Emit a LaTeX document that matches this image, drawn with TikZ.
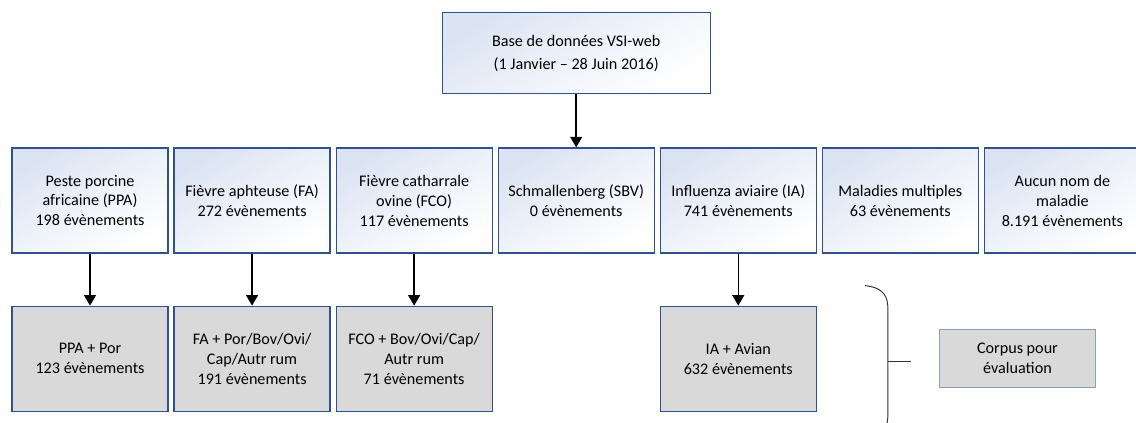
\documentclass[tikz,border=0pt]{standalone}
\usepackage{fontspec}
\setmainfont{Carlito}
\usetikzlibrary{positioning,calc,arrows.meta}
\definecolor{boxblue}{RGB}{47,82,143}
\definecolor{shadeblue}{RGB}{220,228,243}
\definecolor{boxgray}{RGB}{217,217,217}
\definecolor{corpusline}{RGB}{140,158,190}
\tikzstyle{disease} = [rectangle, minimum width=3.9cm, minimum height=2.625cm, text centered, align=center, draw=boxblue, line width=0.9pt, top color=shadeblue, bottom color=white, shading angle=30]
\tikzstyle{result} = [disease, fill=boxgray, shading=none, top color=boxgray, bottom color=boxgray]
\tikzstyle{corpusbox} = [rectangle, minimum width=3.9cm, minimum height=1.45cm, align=center, draw=corpusline, line width=0.8pt, fill=boxgray]
\tikzstyle{arrow} = [line width=1pt,-{Triangle[width=8.5pt,length=7.5pt]}]
\tikzstyle{brace} = [line width=0.7pt, black!80]
\begin{document}
\begin{tikzpicture}[node distance=0.12cm, font=\fontsize{11.5pt}{14.2pt}\selectfont]
\clip (0,0) rectangle (28.4,-10.575);

\node (ppa) [disease] at (2.25,-5.0125) {Peste porcine\\africaine (PPA)\\198 évènements};
\node (fa) [disease, right=of ppa] {Fièvre aphteuse (FA)\\272 évènements};
\node (fco) [disease, right=of fa] {Fièvre catharrale\\ovine (FCO)\\117 évènements};
\node (sbv) [disease, right=of fco] {Schmallenberg (SBV)\\0 évènements};
\node (ia) [disease, right=of sbv] {Influenza aviaire (IA)\\741 évènements};
\node (multi) [disease, right=of ia] {Maladies multiples\\63 évènements};
\node (aucun) [disease, right=of multi] {Aucun nom de\\maladie\\8.191 évènements};

\node (base) [disease, minimum width=6.7cm, minimum height=2.025cm, above=1.325cm of sbv] {Base de données VSI-web\\[2pt] (1 Janvier -- 28 Juin 2016)};

\node (ppapor) [result, below=1.3cm of ppa] {PPA + Por\\123 évènements};
\node (fapor) [result, below=1.3cm of fa] {FA + Por/Bov/Ovi/\\Cap/Autr rum\\191 évènements};
\node (fcobov) [result, below=1.3cm of fco] {FCO + Bov/Ovi/Cap/\\Autr rum\\71 évènements};
\node (iaavian) [result, below=1.3cm of ia] {IA + Avian\\632 évènements};

\node (corpus) [corpusbox, right=3.05cm of iaavian] {Corpus pour\\évaluation};

%arrows
\draw [arrow] (base) -- (sbv);
\draw [arrow] (ppa) -- (ppapor);
\draw [arrow] (fa) -- (fapor);
\draw [arrow] (fco) -- (fcobov);
\draw [arrow] (ia) -- (iaavian);

%brace
\coordinate (brtop) at ($(iaavian.north east)+(1.2,0.5)$);
\coordinate (brbot) at ($(iaavian.south east)+(1.2,-0.65)$);
\coordinate (brmid) at ($(iaavian.east)+(1.775,-0.075)$);
\coordinate (brtick) at ($(brmid)+(0.575,0)$);
\draw [brace] (brtop) .. controls ($(brtop)+(0.5,-0.05)$) and ($(brtop)+(0.575,-0.3)$) .. ($(brtop)+(0.575,-0.6)$)
  -- ($(brbot)+(0.575,0.6)$) .. controls ($(brbot)+(0.575,0.3)$) and ($(brbot)+(0.5,0.05)$) .. (brbot);
\draw [brace] (brmid) -- (brtick);

\end{tikzpicture}
\end{document}
